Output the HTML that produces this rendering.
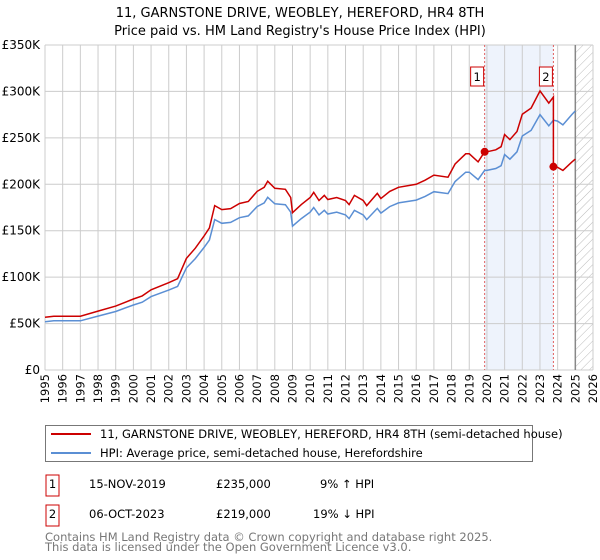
<!DOCTYPE html>
<html><head><meta charset="utf-8"><style>
body{margin:0;background:#fff;font-family:"Liberation Sans","DejaVu Sans",sans-serif;}
#wrap{position:relative;width:600px;height:560px;overflow:hidden}
svg text{font-family:"DejaVu Sans","Liberation Sans",sans-serif}
</style></head><body>
<div id="wrap">
<svg id="chart" width="600" height="560">
<defs><pattern id="hatch" width="6" height="6" patternUnits="userSpaceOnUse" patternTransform="rotate(45)"><line x1="0" y1="0" x2="0" y2="6" stroke="#bbb" stroke-width="1"/></pattern></defs>
<text x="300" y="17" text-anchor="middle" font-size="13">11, GARNSTONE DRIVE, WEOBLEY, HEREFORD, HR4 8TH</text>
<text x="300" y="35" text-anchor="middle" font-size="13">Price paid vs. HM Land Registry's House Price Index (HPI)</text>
<g id="grid"></g><g id="series"></g><g id="axes"></g>
<rect x="45.5" y="425.5" width="487" height="36" fill="#fff" stroke="#777"/>
<line x1="51" y1="434" x2="91" y2="434" stroke="#cc0000" stroke-width="2"/>
<text x="100" y="438" font-size="11.5">11, GARNSTONE DRIVE, WEOBLEY, HEREFORD, HR4 8TH (semi-detached house)</text>
<line x1="51" y1="453" x2="91" y2="453" stroke="#5b8fd4" stroke-width="2"/>
<text x="100" y="457" font-size="11.5">HPI: Average price, semi-detached house, Herefordshire</text>
<g>
<rect x="46" y="475" width="13" height="21" fill="#fff" stroke="#cc0000"/><text x="52.5" y="488" text-anchor="middle" font-size="11.5">1</text>
<text x="89" y="488" font-size="11.5">15-NOV-2019</text><text x="216" y="488" font-size="11.5">£235,000</text><text x="320" y="488" font-size="11.5">9% ↑ HPI</text></g>
<g>
<rect x="46" y="505" width="13" height="21" fill="#fff" stroke="#cc0000"/><text x="52.5" y="518" text-anchor="middle" font-size="11.5">2</text>
<text x="89" y="518" font-size="11.5">06-OCT-2023</text><text x="216" y="518" font-size="11.5">£219,000</text><text x="313" y="518" font-size="11.5">19% ↓ HPI</text></g>
<text x="45" y="541" font-size="11.5" fill="#777">Contains HM Land Registry data © Crown copyright and database right 2025.</text>
<text x="45" y="551" font-size="11.5" fill="#777">This data is licensed under the Open Government Licence v3.0.</text>
</svg></div>
<script>
const hpiYears=[1995,1995.5,1996,1997,1998,1999,2000,2000.5,2001,2002,2002.5,2003,2003.5,2004,2004.3,2004.6,2005,2005.5,2006,2006.5,2007,2007.4,2007.6,2008,2008.6,2008.9,2009,2009.5,2010,2010.2,2010.5,2010.8,2011,2011.5,2012,2012.2,2012.5,2013,2013.2,2013.8,2014,2014.5,2015,2016,2016.5,2017,2017.8,2018.2,2018.8,2019,2019.5,2019.87,2020,2020.5,2020.8,2021,2021.3,2021.7,2022,2022.5,2023,2023.5,2023.76,2024,2024.3,2024.8,2025];
const hpiValues=[52,53,53,53,58,63,70,73,79,86,90,110,120,132,140,162,158,159,164,166,176,180,186,179,178,170,155,163,170,175,167,172,168,170,167,163,172,167,162,174,169,176,180,183,187,192,190,203,213,213,205,215,215,217,220,232,227,235,252,258,275,263,269,268,264,275,279];
const saleYears=[2019.87,2023.76];
const salePrices=[235,219];
const yTicks=[0,50,100,150,200,250,300,350];
const yTickLabels=["£0","£50K","£100K","£150K","£200K","£250K","£300K","£350K"];
const xTickYears=[1995,1996,1997,1998,1999,2000,2001,2002,2003,2004,2005,2006,2007,2008,2009,2010,2011,2012,2013,2014,2015,2016,2017,2018,2019,2020,2021,2022,2023,2024,2025,2026];
const NS="http://www.w3.org/2000/svg";
const X0=45,X1=593,Y0=370,Y1=45;
const xs=y=>X0+(y-1995)/(2026-1995)*(X1-X0);
const ys=v=>Y0-v/350*(Y0-Y1);
function mk(p,tag,at){const e=document.createElementNS(NS,tag);for(const k in at)e.setAttribute(k,at[k]);p.appendChild(e);return e;}
const grid=document.getElementById('grid'),ser=document.getElementById('series'),ax=document.getElementById('axes');
function hpiAt(t){for(let i=1;i<hpiYears.length;i++){if(t<=hpiYears[i]){const f=(t-hpiYears[i-1])/(hpiYears[i]-hpiYears[i-1]);return hpiValues[i-1]+f*(hpiValues[i]-hpiValues[i-1]);}}return hpiValues[hpiValues.length-1];}
const band=mk(grid,'rect',{x:xs(saleYears[0]),y:Y1,width:xs(saleYears[1])-xs(saleYears[0]),height:Y0-Y1,fill:'#eef3fc'});


const hat=mk(grid,'rect',{x:xs(2025),y:Y1,width:X1-xs(2025),height:Y0-Y1,fill:'url(#hatch)'});


xTickYears.forEach(y=>{const l=mk(grid,'line',{x1:xs(y),x2:xs(y),y1:Y1,y2:Y0,stroke:'#ccc'});


const tx=xs(y)+4,ty=374;
const t=mk(ax,'text',{x:tx,y:ty,'text-anchor':'end','font-size':'11.5',transform:'rotate(-90 '+tx+' '+ty+')'});t.textContent=y;

});
yTicks.forEach((v,i)=>{const l=mk(grid,'line',{x1:X0,x2:X1,y1:ys(v),y2:ys(v),stroke:'#ccc'});


const t=mk(ax,'text',{x:40,y:ys(v)+4,'text-anchor':'end','font-size':'12'});t.textContent=yTickLabels[i];

});
const endl=mk(grid,'line',{x1:xs(2025),x2:xs(2025),y1:Y1,y2:Y0,stroke:'#888','stroke-width':1.5});


saleYears.forEach((s,i)=>{const l=mk(grid,'line',{x1:xs(s),x2:xs(s),y1:Y1,y2:Y0,stroke:'#e06060','stroke-dasharray':'2,2'});

});
let d='';hpiYears.forEach((y,i)=>{d+=(i?'L':'M')+xs(y).toFixed(1)+','+ys(hpiValues[i]).toFixed(1);});
const hl=mk(ser,'path',{d:d,fill:'none',stroke:'#5b8fd4','stroke-width':1.5});


const r1=salePrices[0]/hpiAt(saleYears[0]),r2=salePrices[1]/hpiAt(saleYears[1]);
let pd='';
hpiYears.filter(y=>y<saleYears[1]).forEach((y,i)=>{pd+=(i?'L':'M')+xs(y).toFixed(1)+','+ys(hpiAt(y)*r1).toFixed(1);});
pd+='L'+xs(saleYears[1]).toFixed(1)+','+ys(hpiAt(saleYears[1])*r1).toFixed(1);
pd+='L'+xs(saleYears[1]).toFixed(1)+','+ys(salePrices[1]).toFixed(1);
hpiYears.filter(y=>y>saleYears[1]).forEach(y=>{pd+='L'+xs(y).toFixed(1)+','+ys(hpiAt(y)*r2).toFixed(1);});
const pl=mk(ser,'path',{d:pd,fill:'none',stroke:'#cc0000','stroke-width':1.5});


saleYears.forEach((s,i)=>{const c=mk(ser,'circle',{cx:xs(s),cy:ys(salePrices[i]),r:4,fill:'#cc0000'});


const g=mk(ser,'g',{});


mk(g,'rect',{x:xs(s)-14,y:67,width:13,height:19,fill:'#fff',stroke:'#cc0000'});
const t=mk(g,'text',{x:xs(s)-7.5,y:81,'text-anchor':'middle','font-size':'11.5'});t.textContent=i+1;});
</script>
</body></html>
